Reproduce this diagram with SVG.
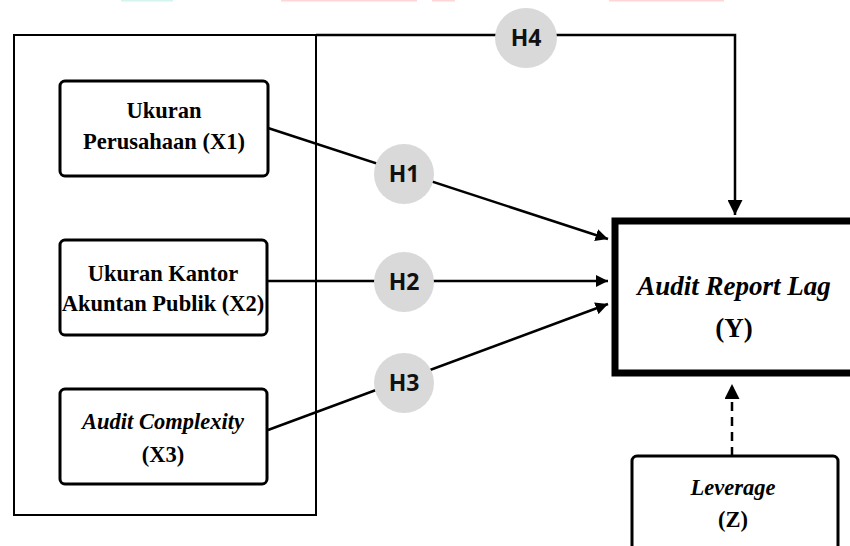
<svg xmlns="http://www.w3.org/2000/svg" width="850" height="546" viewBox="0 0 850 546">
<style>
.box{fill:#fff;stroke:#000;stroke-width:3}
.t{font-family:"Liberation Serif","Times New Roman",serif;font-weight:bold;font-size:22.5px;fill:#000;text-anchor:middle}
.i{font-style:italic}
.big{font-size:27px}
.conn{fill:none;stroke:#000;stroke-width:2.5}
.hc{fill:#d9d9d9;stroke:none}
.h{font-family:"Open Sans","Liberation Sans",sans-serif;font-weight:bold;font-size:23px;fill:#111;text-anchor:middle}
</style>
<defs>
<marker id="arr" viewBox="0 0 10 10" refX="10" refY="5" markerWidth="5" markerHeight="5" orient="auto" markerUnits="strokeWidth">
<path d="M0,0 L10,5 L0,10 Z" fill="#000"/>
</marker>
<marker id="arrs" viewBox="0 0 10 10" refX="10" refY="5" markerWidth="6" markerHeight="6" orient="auto" markerUnits="strokeWidth">
<path d="M0,0 L10,5 L0,10 Z" fill="#000"/>
</marker>
</defs>
<rect width="850" height="546" fill="#fff"/>
<g id="top-fragments">
<rect x="121" y="0" width="52" height="1.5" fill="#d3f5ee"/>
<rect x="281" y="0" width="136" height="1.5" fill="#ffd6d6"/>
<rect x="432" y="0" width="23" height="1.5" fill="#ffd6d6"/>
<rect x="609" y="0" width="115" height="1.5" fill="#ffd6d6"/>
</g>
<g id="group-box">
<rect x="14" y="35" width="302" height="480" fill="none" stroke="#000" stroke-width="2"/>
</g>
<g id="connectors">
<line class="conn" x1="268" y1="128" x2="608" y2="239" marker-end="url(#arr)"/>
<line class="conn" x1="268" y1="281" x2="608" y2="281" marker-end="url(#arr)"/>
<line class="conn" x1="268" y1="430" x2="608" y2="304" marker-end="url(#arr)"/>
<polyline class="conn" stroke-width="2" points="316,35 735,35 735,215" marker-end="url(#arrs)"/>
<line class="conn" stroke-width="2" stroke-dasharray="9,6" x1="732" y1="456" x2="732" y2="384" marker-end="url(#arrs)"/>
</g>
<g id="X1">
<rect class="box" x="60" y="81" width="208" height="95" rx="5"/>
<text class="t" x="164" y="118">Ukuran</text>
<text class="t" x="164" y="149">Perusahaan (X1)</text>
</g>
<g id="X2">
<rect class="box" x="60" y="240" width="207" height="95" rx="5"/>
<text class="t" x="163" y="281">Ukuran Kantor</text>
<text class="t" x="163" y="311">Akuntan Publik (X2)</text>
</g>
<g id="X3">
<rect class="box" x="60" y="389" width="207" height="95" rx="5"/>
<text class="t i" x="163" y="429">Audit Complexity</text>
<text class="t" x="163" y="462">(X3)</text>
</g>
<g id="Y">
<rect x="615" y="221" width="250" height="152" fill="#fff" stroke="#000" stroke-width="7"/>
<text class="t i big" x="734" y="295">Audit Report Lag</text>
<text class="t big" x="734" y="337">(Y)</text>
</g>
<g id="Z">
<rect class="box" x="632" y="456" width="206" height="110" rx="5"/>
<text class="t i" x="733" y="495">Leverage</text>
<text class="t" x="733" y="527">(Z)</text>
</g>
<g id="H1"><circle class="hc" cx="404" cy="174" r="30"/><text class="h" x="404" y="182">H1</text></g>
<g id="H2"><circle class="hc" cx="404" cy="282" r="30"/><text class="h" x="404" y="290">H2</text></g>
<g id="H3"><circle class="hc" cx="404" cy="383" r="30"/><text class="h" x="404" y="391">H3</text></g>
<g id="H4"><ellipse class="hc" cx="526" cy="38" rx="31" ry="30"/><text class="h" x="526" y="46">H4</text></g>
</svg>
